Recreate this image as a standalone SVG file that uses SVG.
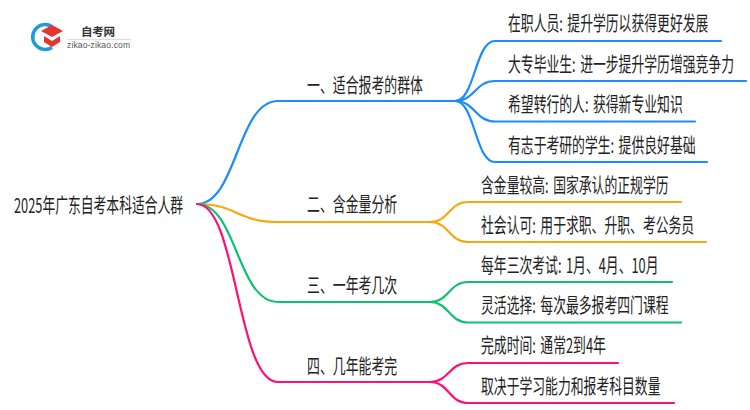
<svg xmlns="http://www.w3.org/2000/svg" width="750" height="410" viewBox="0 0 750 410">
<style>
text{font-family:"Noto Sans CJK SC","Liberation Sans",sans-serif;fill:#222}
.t{font-size:20px;word-spacing:2.500px}
.c{fill:none;stroke-width:2.200;stroke-linecap:round}
.b{stroke:#1a8cff}.o{stroke:#f7a80e}.g{stroke:#0cc26e}.p{stroke:#ff0f76}
</style>
<rect width="750" height="410" fill="#fff"/>
<g id="logo">
<path d="M52 26.500A12.500 12.500 0 1 0 52 47.500" fill="none" stroke="#1f9bdc" stroke-width="3.500"/>
<path d="M52 25L63 31L52 37L41 31Z" fill="#e5352f"/>
<path d="M44 36L52 41L60 36V42L52 47L44 42Z" fill="#e5352f"/>
<text x="81" y="35.500" font-size="11.500" font-weight="700" textLength="34" style="fill:#333">自考网</text>
<rect x="67" y="39" width="64" height="1" fill="#ddd"/>
<text x="67" y="48" font-size="8.500" textLength="63" style="font-family:'Liberation Sans',sans-serif;fill:#555">zikao-zikao.com</text>
</g>
<g id="connectors">
<path class="c b" d="M197 204C237 204 237 101 278 101H455"/>
<path class="c o" d="M197 204C237 204 237 222 278 222H430"/>
<path class="c g" d="M197 204C237 204 237 302 278 302H430"/>
<path class="c p" d="M197 204C237 204 237 382 278 382H430"/>
<path class="c b" d="M455 101C475 101 475 41 495 41H721"/>
<path class="c b" d="M455 101C475 101 475 81 495 81H746"/>
<path class="c b" d="M455 101C475 101 475 121.500 495 121.500H695"/>
<path class="c b" d="M455 101C475 101 475 162 495 162H707"/>
<path class="c o" d="M430 222C449 222 449 202 468 202H681"/>
<path class="c o" d="M430 222C449 222 449 242 468 242H706"/>
<path class="c g" d="M430 302C449 302 449 282 468 282H672"/>
<path class="c g" d="M430 302C449 302 449 322.500 468 322.500H681"/>
<path class="c p" d="M430 382C449 382 449 363 468 363H618"/>
<path class="c p" d="M430 382C449 382 449 403 468 403H674"/>
</g>
<g id="root"><text class="t" transform="translate(14 212.500) scale(.64 1)">2025年广东自考本科适合人群</text></g>
<g id="n1"><text class="t" transform="translate(307 92.500) scale(.645 1)">一、适合报考的群体</text></g>
<g id="n2"><text class="t" transform="translate(307 212) scale(.645 1)">二、含金量分析</text></g>
<g id="n3"><text class="t" transform="translate(307 292.500) scale(.645 1)">三、一年考几次</text></g>
<g id="n4"><text class="t" transform="translate(307 373.500) scale(.645 1)">四、几年能考完</text></g>
<g id="n1a"><text class="t" transform="translate(508 31) scale(.642 1)">在职人员: 提升学历以获得更好发展</text></g>
<g id="n1b"><text class="t" transform="translate(508 71.500) scale(.642 1)">大专毕业生: 进一步提升学历增强竞争力</text></g>
<g id="n1c"><text class="t" transform="translate(508 112) scale(.642 1)">希望转行的人: 获得新专业知识</text></g>
<g id="n1d"><text class="t" transform="translate(508 152.500) scale(.642 1)">有志于考研的学生: 提供良好基础</text></g>
<g id="n2a"><text class="t" transform="translate(481 192.500) scale(.642 1)">含金量较高: 国家承认的正规学历</text></g>
<g id="n2b"><text class="t" transform="translate(481 232.500) scale(.642 1)">社会认可: 用于求职、升职、考公务员</text></g>
<g id="n3a"><text class="t" transform="translate(481 273) scale(.642 1)">每年三次考试: 1月、4月、10月</text></g>
<g id="n3b"><text class="t" transform="translate(481 313) scale(.642 1)">灵活选择: 每次最多报考四门课程</text></g>
<g id="n4a"><text class="t" transform="translate(481 353) scale(.642 1)">完成时间: 通常2到4年</text></g>
<g id="n4b"><text class="t" transform="translate(481 393.500) scale(.642 1)">取决于学习能力和报考科目数量</text></g>
</svg>
